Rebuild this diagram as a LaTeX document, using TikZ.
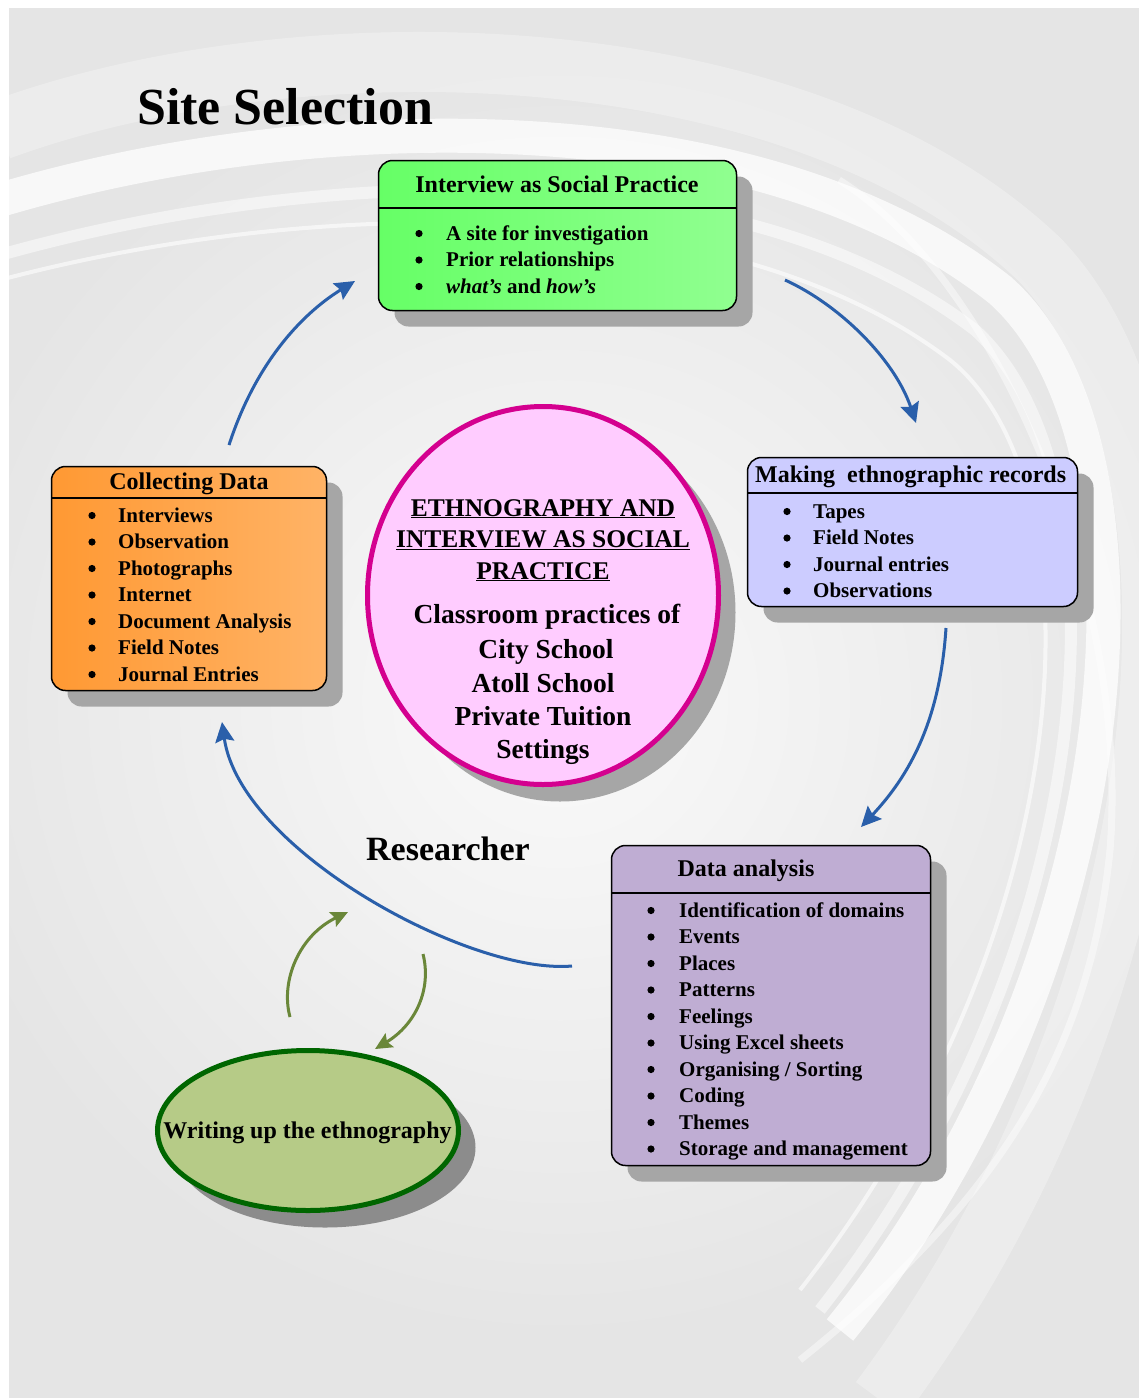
\documentclass[tikz,border=0pt]{standalone}
\usepackage{fontspec}
\setmainfont{Liberation Serif}
\usetikzlibrary{shapes.geometric,shadows,arrows.meta}
\definecolor{bggray}{HTML}{E5E5E5}
\definecolor{bgcenter}{HTML}{FAFAFA}
\definecolor{shadowgray}{HTML}{A6A6A6}
\definecolor{shadowdark}{HTML}{8C8C8C}
\definecolor{greenA}{HTML}{66FF66}
\definecolor{greenB}{HTML}{90FF90}
\definecolor{orangeA}{HTML}{FF9933}
\definecolor{orangeB}{HTML}{FFB366}
\definecolor{lilac}{HTML}{CCCCFF}
\definecolor{purple}{HTML}{BFADD3}
\definecolor{pinkfill}{HTML}{FFCCFF}
\definecolor{pinkline}{HTML}{D4008F}
\definecolor{olivefill}{HTML}{B6CB87}
\definecolor{darkgreen}{HTML}{006600}
\definecolor{arrowblue}{HTML}{2A5FAA}
\definecolor{arrowolive}{HTML}{6A8739}
\tikzset{
  panel/.style={rectangle, rounded corners=14pt, draw=black, line width=1.5pt, inner sep=0pt,
    general shadow={fill=shadowgray, shadow xshift=16pt, shadow yshift=-16pt}},
  sepline/.style={draw=black, line width=1.5pt},
  headtext/.style={inner sep=0pt, font=\fontsize{24}{28}\selectfont\bfseries, text=black},
  itemtext/.style={anchor=base west, inner sep=0pt, font=\fontsize{21}{25}\selectfont\bfseries, text=black},
  bulletdot/.style={fill=black},
  captext/.style={anchor=base, inner sep=0pt, font=\fontsize{25.5}{30}\selectfont\bfseries, text=black},
  bodytext/.style={anchor=base, inner sep=0pt, font=\fontsize{27.5}{32}\selectfont\bfseries, text=black},
  bluearrow/.style={draw=arrowblue, line width=3pt, -{Stealth[length=20pt,width=19pt,inset=3pt]}},
  olivearrow/.style={draw=arrowolive, line width=3pt, -{Stealth[length=17pt,width=16pt,inset=3pt]}},
  swoosh/.style={draw=white, line cap=butt}
}
\begin{document}
\begin{tikzpicture}[x=1pt,y=-1pt]
\useasboundingbox (0,0) rectangle (1139,1398);
% background
\begin{scope}
  \clip (9,8) rectangle (1139,1398);
  \fill[bggray] (9,8) rectangle (1139,1398);
  \shade[inner color=bgcenter, outer color=bggray] (560,700) circle (640);
  \draw[swoosh, line width=60pt, opacity=0.3] (0,130) .. controls (300,20) and (800,30) .. (1040,260) .. controls (1230,460) and (1180,1000) .. (880,1400);
  \draw[swoosh, line width=34pt, opacity=0.75] (0,200) .. controls (320,105) and (760,100) .. (1000,290) .. controls (1170,440) and (1140,960) .. (840,1330);
  \draw[swoosh, line width=12pt, opacity=0.5] (0,255) .. controls (320,165) and (740,150) .. (975,330) .. controls (1130,470) and (1110,940) .. (820,1310);
  \draw[swoosh, line width=4pt, opacity=0.6] (0,280) .. controls (300,200) and (720,185) .. (950,360) .. controls (1100,480) and (1090,920) .. (800,1290);
  \draw[swoosh, line width=7pt, opacity=0.45] (839,180) .. controls (1000,280) and (1130,600) .. (1110,850) .. controls (1090,1050) and (1000,1200) .. (800,1360);
\end{scope}
% title
\node[anchor=base west, inner sep=0pt, font=\fontsize{52}{60}\selectfont\bfseries] (title) at (137,124) {Site Selection};
% Interview as Social Practice
\node[panel, left color=greenA, right color=greenB, minimum width=358pt, minimum height=150pt] (isp) at (557.5,235.5) {};
\draw[sepline] (378,208) -- (737,208);
\node[headtext, anchor=base] (isph) at (557,192) {Interview as Social Practice};
\foreach \t [count=\i from 0] in {A site for investigation, Prior relationships, \textit{what's} and \textit{how's}}{
  \fill[bulletdot] (419,{240+26.5*\i-6.5}) circle (3.6);
  \node[itemtext] (isp\i) at (446,{240+26.5*\i}) {\t};
}
% Making ethnographic records
\node[panel, fill=lilac, minimum width=330pt, minimum height=149pt] (mer) at (912.5,532) {};
\draw[sepline] (747,493) -- (1078,493);
\node[headtext, anchor=base west] (merh) at (755,482) {Making\ \ ethnographic records};
\foreach \t [count=\i from 0] in {Tapes, Field Notes, Journal entries, Observations}{
  \fill[bulletdot] (787,{518+26.5*\i-6.5}) circle (3.6);
  \node[itemtext] (mer\i) at (813,{518+26.5*\i}) {\t};
}
% Collecting Data
\node[panel, left color=orangeA, right color=orangeB, minimum width=275pt, minimum height=224pt] (cd) at (189,578.5) {};
\draw[sepline] (51,498) -- (327,498);
\node[headtext, anchor=base] (cdh) at (189,489) {Collecting Data};
\foreach \t [count=\i from 0] in {Interviews, Observation, Photographs, Internet, Document Analysis, Field Notes, Journal Entries}{
  \fill[bulletdot] (92,{522+26.5*\i-6.5}) circle (3.6);
  \node[itemtext] (cd\i) at (118,{522+26.5*\i}) {\t};
}
% Data analysis
\node[panel, fill=purple, minimum width=319pt, minimum height=320pt] (da) at (771,1005.5) {};
\draw[sepline] (611,893) -- (931,893);
\node[headtext, anchor=base] (dah) at (746,876) {Data analysis};
\foreach \t [count=\i from 0] in {Identification of domains, Events, Places, Patterns, Feelings, Using Excel sheets, Organising / Sorting, Coding, Themes, Storage and management}{
  \fill[bulletdot] (651,{917+26.5*\i-6.5}) circle (3.6);
  \node[itemtext] (da\i) at (679,{917+26.5*\i}) {\t};
}
% central ellipse
\node[ellipse, fill=pinkfill, draw=pinkline, line width=5pt, minimum width=351pt, minimum height=378pt, inner sep=0pt,
  general shadow={fill=shadowgray, shadow xshift=17pt, shadow yshift=-17pt}] (core) at (543,595.5) {};
\node[captext] (core1) at (543,516) {\underline{ETHNOGRAPHY AND}};
\node[captext] (core2) at (543,547.5) {\underline{INTERVIEW AS SOCIAL}};
\node[captext] (core3) at (543,579) {\underline{PRACTICE}};
\node[bodytext] (core4) at (547,623) {Classroom practices of};
\node[bodytext] (core5) at (546,658) {City School};
\node[bodytext] (core6) at (543,692) {Atoll School};
\node[bodytext] (core7) at (543,725) {Private Tuition};
\node[bodytext] (core8) at (543,758.5) {Settings};
% Researcher
\node[anchor=base, inner sep=0pt, font=\fontsize{34}{40}\selectfont\bfseries] (res) at (448,860) {Researcher};
% Writing up
\node[ellipse, fill=olivefill, draw=darkgreen, line width=5pt, minimum width=301pt, minimum height=160pt, inner sep=0pt,
  general shadow={fill=shadowdark, shadow xshift=17pt, shadow yshift=-17pt}] (wr) at (308,1130.5) {};
\node[anchor=base, inner sep=0pt, font=\fontsize{24}{28}\selectfont\bfseries] (wrt) at (307.5,1138) {Writing up the ethnography};
% connector end points
\coordinate (a1s) at (229,445); \coordinate (a1e) at (355,281);
\coordinate (a2s) at (785,280); \coordinate (a2e) at (916,423);
\coordinate (a3s) at (946,628); \coordinate (a3e) at (861,827);
\coordinate (a4s) at (572,966); \coordinate (a4e) at (222,722);
\coordinate (g1s) at (290,1017); \coordinate (g1e) at (348,912);
\coordinate (g2s) at (423,954); \coordinate (g2e) at (375,1049);
\draw[bluearrow] (a1s) .. controls (255,365) and (300,315) .. (a1e);
\draw[bluearrow] (a2s) .. controls (840,305) and (895,360) .. (a2e);
\draw[bluearrow] (a3s) .. controls (940,720) and (910,775) .. (a3e);
\draw[bluearrow] (a4s) .. controls (470,975) and (240,850) .. (a4e);
\draw[olivearrow] (g1s) .. controls (280,980) and (300,935) .. (g1e);
\draw[olivearrow] (g2s) .. controls (432,990) and (415,1025) .. (g2e);
\end{tikzpicture}
\end{document}
